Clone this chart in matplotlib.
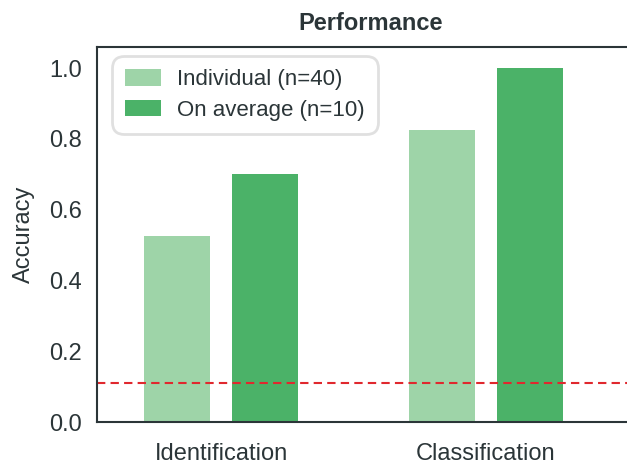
import numpy as np
import matplotlib
matplotlib.use('Agg')
import matplotlib.pyplot as plt

tasks = ['Identification', 'Classification']
individual = [0.525, 0.825]
on_average = [0.70, 1.0]
chance = 0.11
series_labels = ['Individual (n=40)', 'On average (n=10)']

light_green = '#9ed4a8'
dark_green = '#4bb268'
text_col = '#2b3538'

plt.rcParams['font.family'] = ['Liberation Sans', 'DejaVu Sans']
plt.rcParams['text.color'] = text_col
plt.rcParams['axes.labelcolor'] = text_col
plt.rcParams['xtick.color'] = text_col
plt.rcParams['ytick.color'] = text_col

fig = plt.figure(figsize=(6.27, 4.66), dpi=100)
ax = fig.add_axes([0.1547, 0.0944, 0.873, 0.805])

x = np.arange(len(tasks))
w = 0.25
off = 0.166
ax.bar(x - off, individual, w, color=light_green, label=series_labels[0])
ax.bar(x + off, on_average, w, color=dark_green, label=series_labels[1])
ax.axhline(chance, color='#e0282e', linestyle='--', linewidth=1.5, dashes=(4, 2.5))

ax.set_xlim(-0.47, 1.6)
ax.set_ylim(0, 1.06)
ax.set_xticks(x)
ax.set_xticklabels(tasks)
ax.set_yticks([0.0, 0.2, 0.4, 0.6, 0.8, 1.0])
ax.tick_params(axis='both', length=0, labelsize=17)
ax.tick_params(axis='x', pad=15)
ax.tick_params(axis='y', pad=11)
ax.set_ylabel('Accuracy', fontsize=17, labelpad=10)
ax.set_title('Performance', fontsize=17, fontweight='bold', pad=12)

for s in ax.spines.values():
    s.set_color('#2b3538')
    s.set_linewidth(1.5)
ax.spines['right'].set_visible(False)

leg = ax.legend(loc='upper left', fontsize=16, frameon=True, fancybox=True,
                borderpad=0.6, labelspacing=0.42, handlelength=1.6,
                handleheight=0.75, handletextpad=0.75, borderaxespad=0,
                bbox_to_anchor=(0.027, 0.976))
frame = leg.get_frame()
frame.set_edgecolor('#d9d9d9')
frame.set_linewidth(2)
frame.set_boxstyle('round', pad=0, rounding_size=0.55)

plt.savefig('out.png', dpi=100)
